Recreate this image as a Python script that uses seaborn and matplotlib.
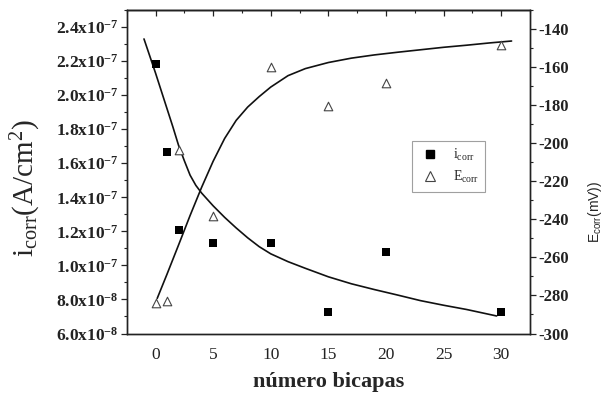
import matplotlib
matplotlib.use("Agg")
import matplotlib.pyplot as plt
from matplotlib.lines import Line2D
from matplotlib.ticker import FixedLocator, MultipleLocator, FixedFormatter
import seaborn as sns

# ---------------- data ----------------
bicapas = [0, 1, 2, 5, 10, 15, 20, 30]
i_corr = [2.18e-7, 1.664e-7, 1.21e-7, 1.13e-7, 1.13e-7, 7.25e-8, 1.079e-7, 7.26e-8]
e_corr = [-283.8, -283.1, -203.4, -238.3, -160.1, -180.4, -168.5, -148.4]

# fitted curves
fit_i_x = [-1.0, -0.5, 0.0, 0.5, 1.0, 1.5, 2.0, 2.5, 3.0, 3.5, 4.0, 5.0, 6.0, 7.0,
           8.0, 9.0, 10.0, 11.5, 13.0, 15.0, 17.0, 19.0, 21.0, 23.0, 25.0, 27.0, 29.6]
fit_i_y = [2.33e-7, 2.23e-7, 2.13e-7, 2.025e-7, 1.92e-7, 1.815e-7, 1.705e-7, 1.615e-7,
           1.53e-7, 1.47e-7, 1.425e-7, 1.35e-7, 1.282e-7, 1.22e-7, 1.162e-7, 1.11e-7,
           1.068e-7, 1.022e-7, 9.83e-8, 9.33e-8, 8.92e-8, 8.58e-8, 8.26e-8, 7.93e-8,
           7.66e-8, 7.41e-8, 7.03e-8]
fit_e_x = [0.15, 1.0, 2.0, 3.0, 4.0, 5.0, 6.0, 7.0, 8.0, 9.0, 10.0, 11.5, 13.0, 15.0,
           17.0, 19.0, 21.0, 23.0, 25.0, 27.0, 29.0, 30.9]
fit_e_y = [-281.5, -268.8, -253.5, -238.0, -223.2, -209.5, -197.5, -188.0, -181.0,
           -175.5, -170.5, -164.5, -160.8, -157.6, -155.3, -153.6, -152.2, -150.9,
           -149.6, -148.5, -147.3, -146.3]

x_ticks = [0, 5, 10, 15, 20, 25, 30]
left_ticks = [6e-8, 8e-8, 1.0e-7, 1.2e-7, 1.4e-7, 1.6e-7, 1.8e-7, 2.0e-7, 2.2e-7, 2.4e-7]
left_labels = ["6.0x10^{-8}", "8.0x10^{-8}", "1.0x10^{-7}", "1.2x10^{-7}", "1.4x10^{-7}",
               "1.6x10^{-7}", "1.8x10^{-7}", "2.0x10^{-7}", "2.2x10^{-7}", "2.4x10^{-7}"]
right_ticks = [-300, -280, -260, -240, -220, -200, -180, -160, -140]

# ---------------- style ----------------
sns.set_style("white")
plt.rcParams.update({
    "font.family": ["Liberation Serif", "DejaVu Serif"],
    "mathtext.fontset": "custom",
    "mathtext.rm": "Liberation Serif",
    "mathtext.it": "Liberation Serif:italic",
    "mathtext.bf": "Liberation Serif:bold",
    "mathtext.sf": "Liberation Sans",
    "axes.edgecolor": "#222222",
    "axes.linewidth": 1.0,
    "xtick.color": "#222222",
    "ytick.color": "#222222",
})

fig = plt.figure(figsize=(6.08, 4.0), dpi=100)
ax = fig.add_axes([0.2084, 0.16625, 0.6633, 0.80875])
ax2 = ax.twinx()

sns.lineplot(x=fit_i_x, y=fit_i_y, ax=ax, color="#111111", linewidth=1.2,
             sort=False, estimator=None, legend=False)
sns.scatterplot(x=bicapas, y=i_corr, ax=ax, marker="s", color="black", s=30,
                linewidth=0, zorder=3, legend=False)

sns.lineplot(x=fit_e_x, y=fit_e_y, ax=ax2, color="#111111", linewidth=1.2,
             sort=False, estimator=None, legend=False)
sns.scatterplot(x=bicapas, y=e_corr, ax=ax2, marker="^", color="white", s=38,
                edgecolor="#444444", linewidth=0.8, zorder=3, legend=False)

ax.set_xlim(-2.5, 32.5)
ax.set_ylim(6e-8, 2.5e-7)
ax2.set_ylim(-300, -130)

# x axis
ax.xaxis.set_major_locator(FixedLocator(x_ticks))
ax.xaxis.set_minor_locator(MultipleLocator(2.5))
ax.set_xticklabels([str(v) for v in x_ticks])
ax.tick_params(axis="x", which="major", direction="out", length=4, width=0.9,
               labelsize=12.5, pad=6)
ax.tick_params(axis="x", which="minor", direction="out", length=2.5, width=0.8)

top = ax.secondary_xaxis("top")
top.xaxis.set_major_locator(FixedLocator(x_ticks))
top.xaxis.set_minor_locator(MultipleLocator(2.5))
top.tick_params(axis="x", which="major", direction="in", length=4, width=0.9, labeltop=False)
top.tick_params(axis="x", which="minor", direction="in", length=2.5, width=0.8)

# left axis
ax.yaxis.set_major_locator(FixedLocator(left_ticks))
ax.yaxis.set_minor_locator(MultipleLocator(1e-8))
ax.yaxis.set_major_formatter(FixedFormatter([r"$\mathbf{%s}$" % s for s in left_labels]))
ax.tick_params(axis="y", which="major", direction="out", length=4, width=0.9,
               labelsize=12.5, pad=2)
ax.tick_params(axis="y", which="minor", direction="out", length=2.5, width=0.8)

# right axis
ax2.yaxis.set_major_locator(FixedLocator(right_ticks))
ax2.yaxis.set_minor_locator(MultipleLocator(10))
ax2.set_yticklabels([str(v) for v in right_ticks], fontweight="bold")
ax2.tick_params(axis="y", which="major", direction="out", length=4, width=0.9,
                labelsize=12, pad=2)
ax2.tick_params(axis="y", which="minor", direction="out", length=2.5, width=0.8)

for sp in ax.spines.values():
    sp.set_color("#222222")

# labels
ax.set_xlabel("número bicapas", fontsize=16, fontweight="bold")
ax.xaxis.set_label_coords(0.50, -0.118)
ax.set_ylabel(r"$\mathrm{i_{corr}}$(A/cm$^{\mathrm{2}}$)", fontsize=21)
ax.yaxis.set_label_coords(-0.207, 0.45)
ax2.set_ylabel(r"$\mathsf{E_{corr}}$(mV))", fontsize=10, family="Liberation Sans")
ax2.yaxis.set_label_coords(1.138, 0.377)

# legend
handles = [
    Line2D([], [], linestyle="none", marker="s", markersize=5.5, color="black"),
    Line2D([], [], linestyle="none", marker="^", markersize=6.5,
           markerfacecolor="white", markeredgecolor="#444444", markeredgewidth=0.8),
]
leg = ax.legend(handles, [r"$\mathrm{i_{corr}}$", r"$\mathrm{E_{corr}}$"],
                loc="upper left", bbox_to_anchor=(411.7 / 608, 1 - 140.7 / 400),
                bbox_transform=fig.transFigure, borderaxespad=0, fontsize=10,
                frameon=True, fancybox=False, handletextpad=0.8, borderpad=0.45,
                labelspacing=0.45, handlelength=1.7)
leg.get_frame().set_edgecolor("#888888")
leg.get_frame().set_linewidth(0.8)
leg.set_zorder(5)

fig.savefig("out.png", dpi=100)
